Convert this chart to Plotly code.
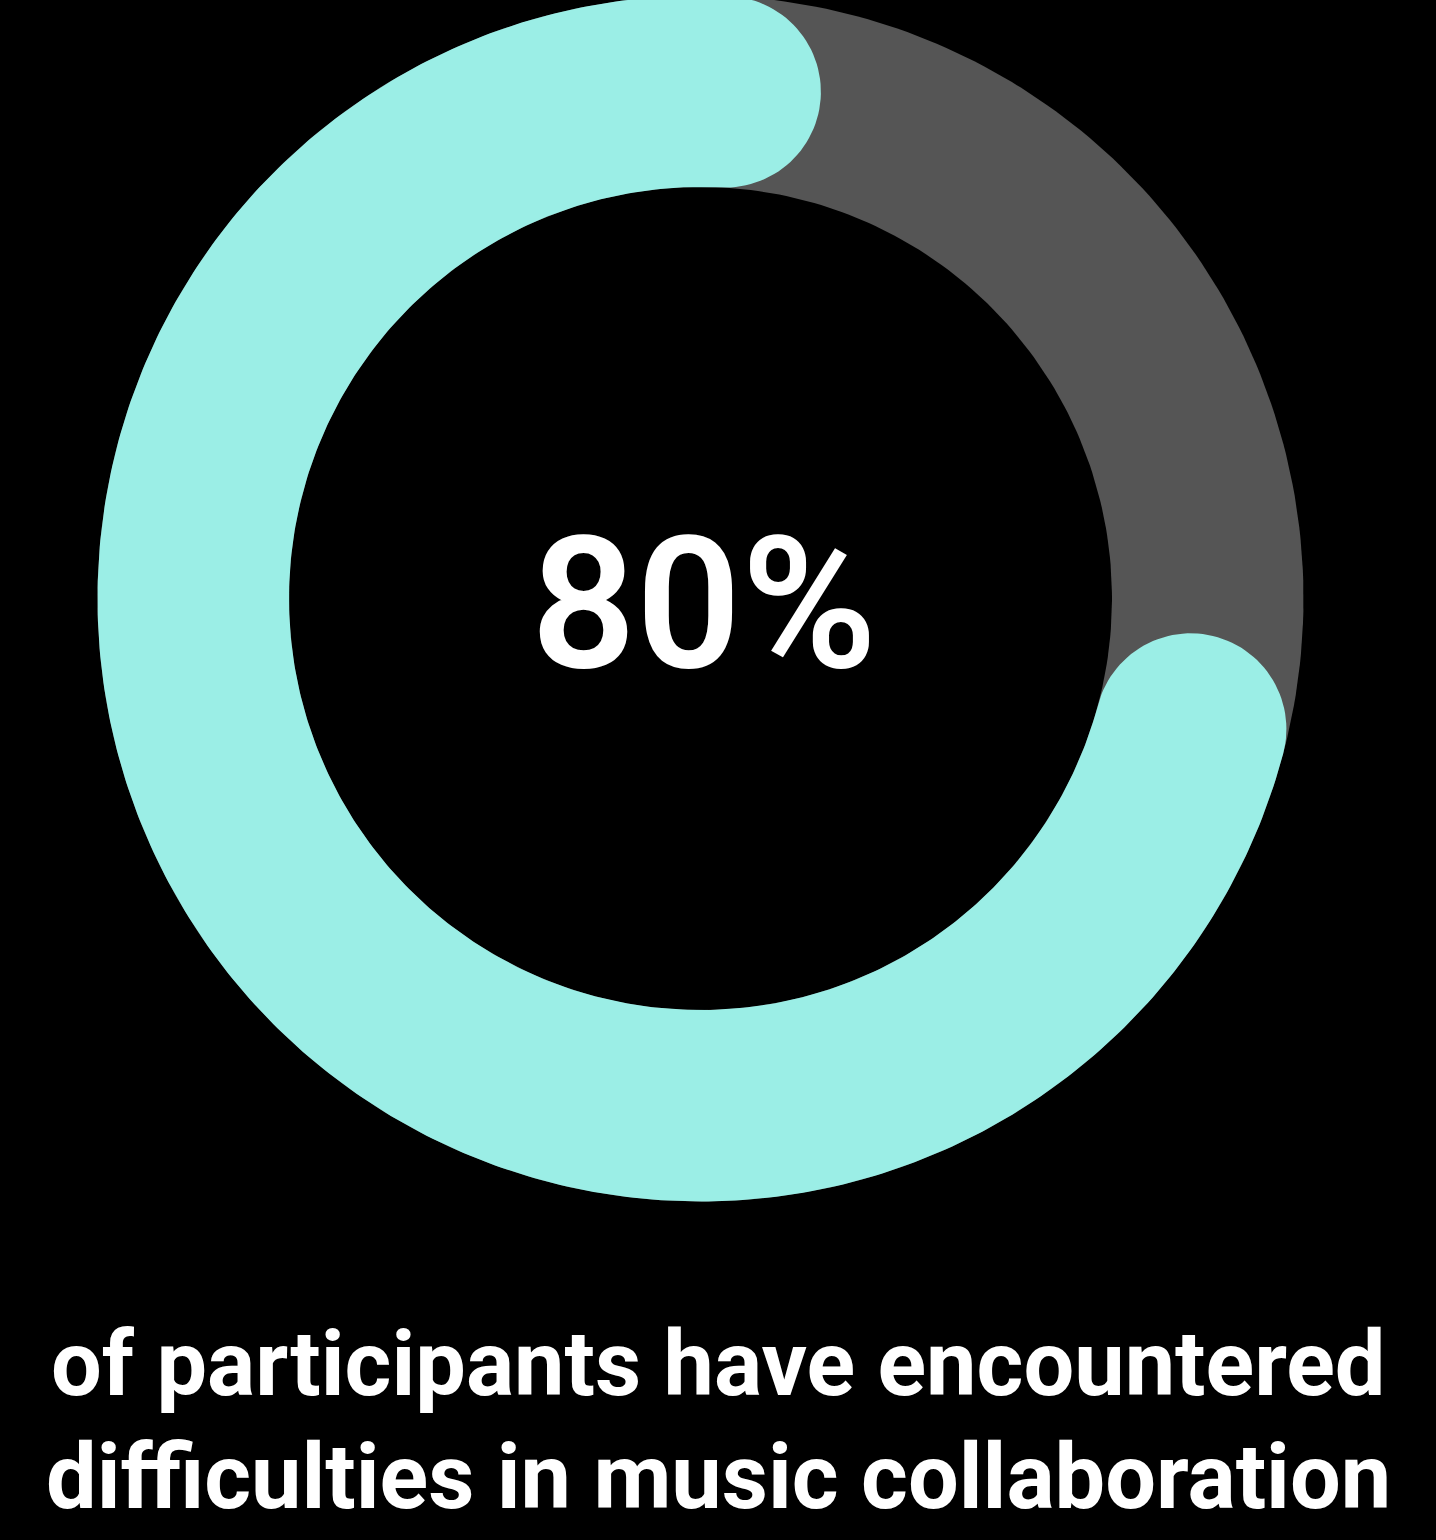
import numpy as np
import plotly.graph_objects as go

# ---- data ----
labels = ["Encountered difficulties", "Did not"]
values = [80, 20]
center_label = "80%"
caption_lines = ["of participants have encountered", "difficulties in music collaboration"]

# ---- style / geometry ----
W, H = 1436, 1540
CX, CY = 700.5, 598.5
R_OUT, R_IN = 603.0, 411.5
TEAL = "#9beee6"
GRAY = "#555555"
TIP_END_DEG = 13.6      # clockwise from 12 o'clock, where the teal arc's rounded tip ends
TRIM_DEG = 8.5          # visual gap padding

R_MID = (R_OUT + R_IN) / 2
HALF = (R_OUT - R_IN) / 2
cap_deg = np.degrees(HALF / R_MID)


def pt(phi_deg, r):
    p = np.radians(phi_deg)
    return CX + r * np.sin(p), CY - r * np.cos(p)


def disk(r, n=360):
    a = np.linspace(0, 360, n)
    xs, ys = pt(a, r)
    return list(xs), list(ys)


pct = values[0] / sum(values) * 100
sweep_total = 360 * pct / 100 - TRIM_DEG
tip_start = TIP_END_DEG + 360 - sweep_total
phi_s = tip_start + cap_deg
phi_e = TIP_END_DEG + 360 - cap_deg

xs, ys = [], []
arc = np.linspace(phi_s, phi_e, 400)
ox, oy = pt(arc, R_OUT)
xs += list(ox); ys += list(oy)
# end cap
pe = np.radians(phi_e)
C = np.array(pt(phi_e, R_MID))
u = np.array([np.sin(pe), -np.cos(pe)])
t = np.array([np.cos(pe), np.sin(pe)])
for a in np.linspace(0, np.pi, 60):
    q = C + HALF * (u * np.cos(a) + t * np.sin(a))
    xs.append(q[0]); ys.append(q[1])
ix, iy = pt(arc[::-1], R_IN)
xs += list(ix); ys += list(iy)
# start cap
ps = np.radians(phi_s)
C = np.array(pt(phi_s, R_MID))
u = np.array([np.sin(ps), -np.cos(ps)])
t = np.array([np.cos(ps), np.sin(ps)])
for a in np.linspace(0, np.pi, 60):
    q = C + HALF * (-u * np.cos(a) - t * np.sin(a))
    xs.append(q[0]); ys.append(q[1])

fig = go.Figure()
gx, gy = disk(R_OUT)
fig.add_trace(go.Scatter(x=gx, y=gy, fill="toself", fillcolor=GRAY, mode="lines",
                         line=dict(width=0, color=GRAY), hoverinfo="skip", name=labels[1]))
bx, by = disk(R_IN)
fig.add_trace(go.Scatter(x=bx, y=by, fill="toself", fillcolor="black", mode="lines",
                         line=dict(width=0, color="black"), hoverinfo="skip", showlegend=False))
fig.add_trace(go.Scatter(x=xs, y=ys, fill="toself", fillcolor=TEAL, mode="lines",
                         line=dict(width=0, color=TEAL), hoverinfo="skip", name=labels[0]))

fig.add_annotation(x=704, y=604, xref="x", yref="y", text=center_label, showarrow=False,
                   font=dict(family="Roboto", size=184, color="white", weight=600),
                   xanchor="center", yanchor="middle")
fig.add_annotation(x=718, y=1364, xref="x", yref="y", text="<b>" + caption_lines[0] + "</b>",
                   showarrow=False, font=dict(family="Roboto", size=90, color="white"),
                   xanchor="center", yanchor="middle")
fig.add_annotation(x=718, y=1477, xref="x", yref="y", text="<b>" + caption_lines[1] + "</b>",
                   showarrow=False, font=dict(family="Roboto", size=90, color="white"),
                   xanchor="center", yanchor="middle")

fig.update_xaxes(range=[0, W], visible=False, fixedrange=True)
fig.update_yaxes(range=[H, 0], visible=False, fixedrange=True)
fig.update_layout(width=W, height=H, margin=dict(l=0, r=0, t=0, b=0),
                  paper_bgcolor="black", plot_bgcolor="black", showlegend=False)
fig.write_html("out.html", config={"displayModeBar": False},
               post_script="document.body.style.margin='0';document.body.style.background='black';")
